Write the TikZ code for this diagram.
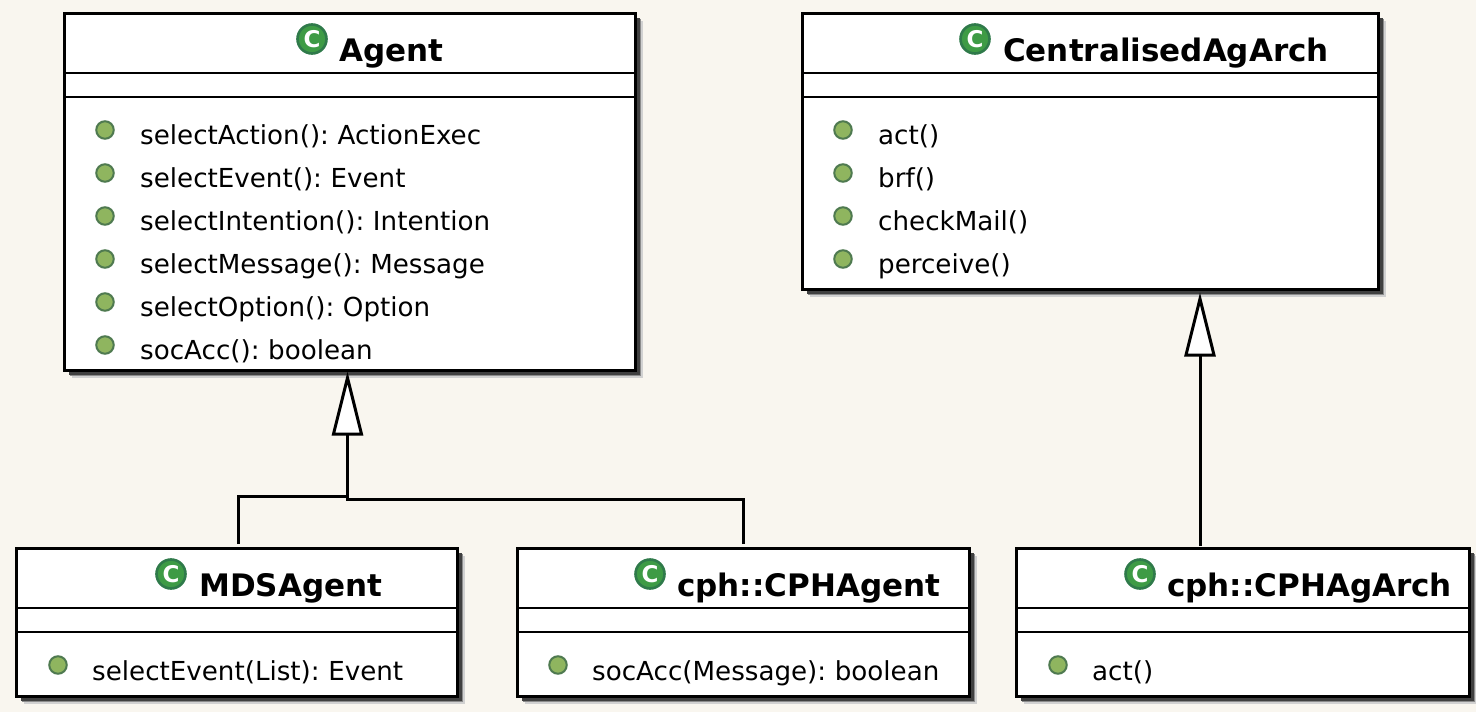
\documentclass[tikz,border=0pt]{standalone}
\usepackage{fontspec}
\setmainfont[WordSpace=0.7]{DejaVu Sans}
\usetikzlibrary{arrows.meta}
\definecolor{bgc}{HTML}{F9F6EF}
\definecolor{iconfill}{HTML}{3E9B45}
\definecolor{icondraw}{HTML}{2F7A4A}
\definecolor{dotfill}{HTML}{8FB55F}
\definecolor{dotdraw}{HTML}{4F7A50}
\tikzset{
  classbox/.style={draw=black,fill=white,line width=3pt,inner sep=0pt,outer sep=0pt},
  sep/.style={line width=2.8pt,black},
  titletext/.style={anchor=base west,inner sep=0pt,font=\fontsize{31}{34}\selectfont\bfseries},
  methodtext/.style={anchor=base west,inner sep=0pt,font=\fontsize{26.15}{30}\selectfont},
  cicon/.style={circle,draw=icondraw,fill=iconfill,line width=2.6pt,minimum size=29pt,inner sep=0pt,text=white,font=\fontsize{23}{23}\selectfont\bfseries},
  dot/.style={circle,draw=dotdraw,fill=dotfill,line width=2pt,minimum size=17.5pt,inner sep=0pt},
  conn/.style={line width=3pt,black},
  gen/.style={conn,-{Triangle[open,fill=white,length=64pt,width=31pt,line width=3pt]}}
}
\newcommand{\umlbox}[5]{%
  \fill[black!18] (#2+7,#3+7) rectangle (#4+7,#5+7);
  \fill[black!45] (#2+5.5,#3+5.5) rectangle (#4+5.5,#5+5.5);
  \fill[black!75] (#2+4,#3+4) rectangle (#4+4,#5+4);
  \node[classbox,minimum width=#4-#2,minimum height=#5-#3] (#1) at ({(#2+#4)/2},{(#3+#5)/2}) {};
  \draw[sep] (#2,#3+59.5) coordinate (#1-a) -- (#4-1.5,#3+59.5);
  \draw[sep] (#2,#3+83.5) coordinate (#1-b) -- (#4-1.5,#3+83.5);
}
\begin{document}
\begin{tikzpicture}[x=1pt,y=-1pt]
\useasboundingbox[fill=bgc] (0,0) rectangle (1476,712);
\umlbox{agent}{64.5}{13.5}{635.5}{370.5}
\umlbox{central}{802.5}{13.5}{1378.5}{289.5}
\umlbox{mds}{16.5}{548.5}{457.5}{696.5}
\umlbox{cphagent}{517.5}{548.5}{969.5}{696.5}
\umlbox{cpharch}{1016.5}{548.5}{1469.5}{696.5}
% titles
\node[cicon] (i1) at (312,39) {C};
\node[titletext] (t1) at (339,61) {Agent};
\node[cicon] (i2) at (975,39) {C};
\node[titletext] (t2) at (1003,61) {CentralisedAgArch};
\node[cicon] (i3) at (171,574) {C};
\node[titletext] (t3) at (199,596.5) {MDSAgent};
\node[cicon] (i4) at (650,574) {C};
\node[titletext] (t4) at (677,596.5) {cph::CPHAgent};
\node[cicon] (i5) at (1140,574) {C};
\node[titletext] (t5) at (1167,596.5) {cph::CPHAgArch};
% Agent methods
\node[dot] (d11) at (105,130) {}; \node[methodtext] (m11) at (140,144.5) {selectAction(): ActionExec};
\node[dot] (d12) at (105,173) {}; \node[methodtext] (m12) at (140,187.5) {selectEvent(): Event};
\node[dot] (d13) at (105,216) {}; \node[methodtext] (m13) at (140,230.5) {selectIntention(): Intention};
\node[dot] (d14) at (105,259) {}; \node[methodtext] (m14) at (140,273.5) {selectMessage(): Message};
\node[dot] (d15) at (105,302) {}; \node[methodtext] (m15) at (140,316.5) {selectOption(): Option};
\node[dot] (d16) at (105,345) {}; \node[methodtext] (m16) at (140,359.5) {socAcc(): boolean};
% Centralised methods
\node[dot] (d21) at (843,130) {}; \node[methodtext] (m21) at (878,144.5) {act()};
\node[dot] (d22) at (843,173) {}; \node[methodtext] (m22) at (878,187.5) {brf()};
\node[dot] (d23) at (843,216) {}; \node[methodtext] (m23) at (878,230.5) {checkMail()};
\node[dot] (d24) at (843,259) {}; \node[methodtext] (m24) at (878,273.5) {perceive()};
% lower methods
\node[dot] (d31) at (58,665) {}; \node[methodtext] (m31) at (92,680) {selectEvent(List): Event};
\node[dot] (d41) at (558,665) {}; \node[methodtext] (m41) at (592,680) {socAcc(Message): boolean};
\node[dot] (d51) at (1058,665) {}; \node[methodtext] (m51) at (1092,680) {act()};
% connectors
\coordinate (agenttip) at ([xshift=-2.5pt,yshift=-1pt]agent.south);
\coordinate (centraltip) at ([xshift=109.5pt,yshift=-3pt]central.south);
\draw[conn] ([xshift=1.5pt,yshift=4.5pt]mds.north) -- ++(0,-48) -| (agenttip |- 0,440);
\draw[conn] ([xshift=-0.5pt,yshift=4.5pt]cphagent.north) -- ++(0,-45) -| (agenttip |- 0,440);
\draw[gen] (agenttip |- 0,470) -- (agenttip);
\draw[gen] ([yshift=2.5pt]centraltip |- cpharch.north) -- (centraltip);
\end{tikzpicture}
\end{document}
